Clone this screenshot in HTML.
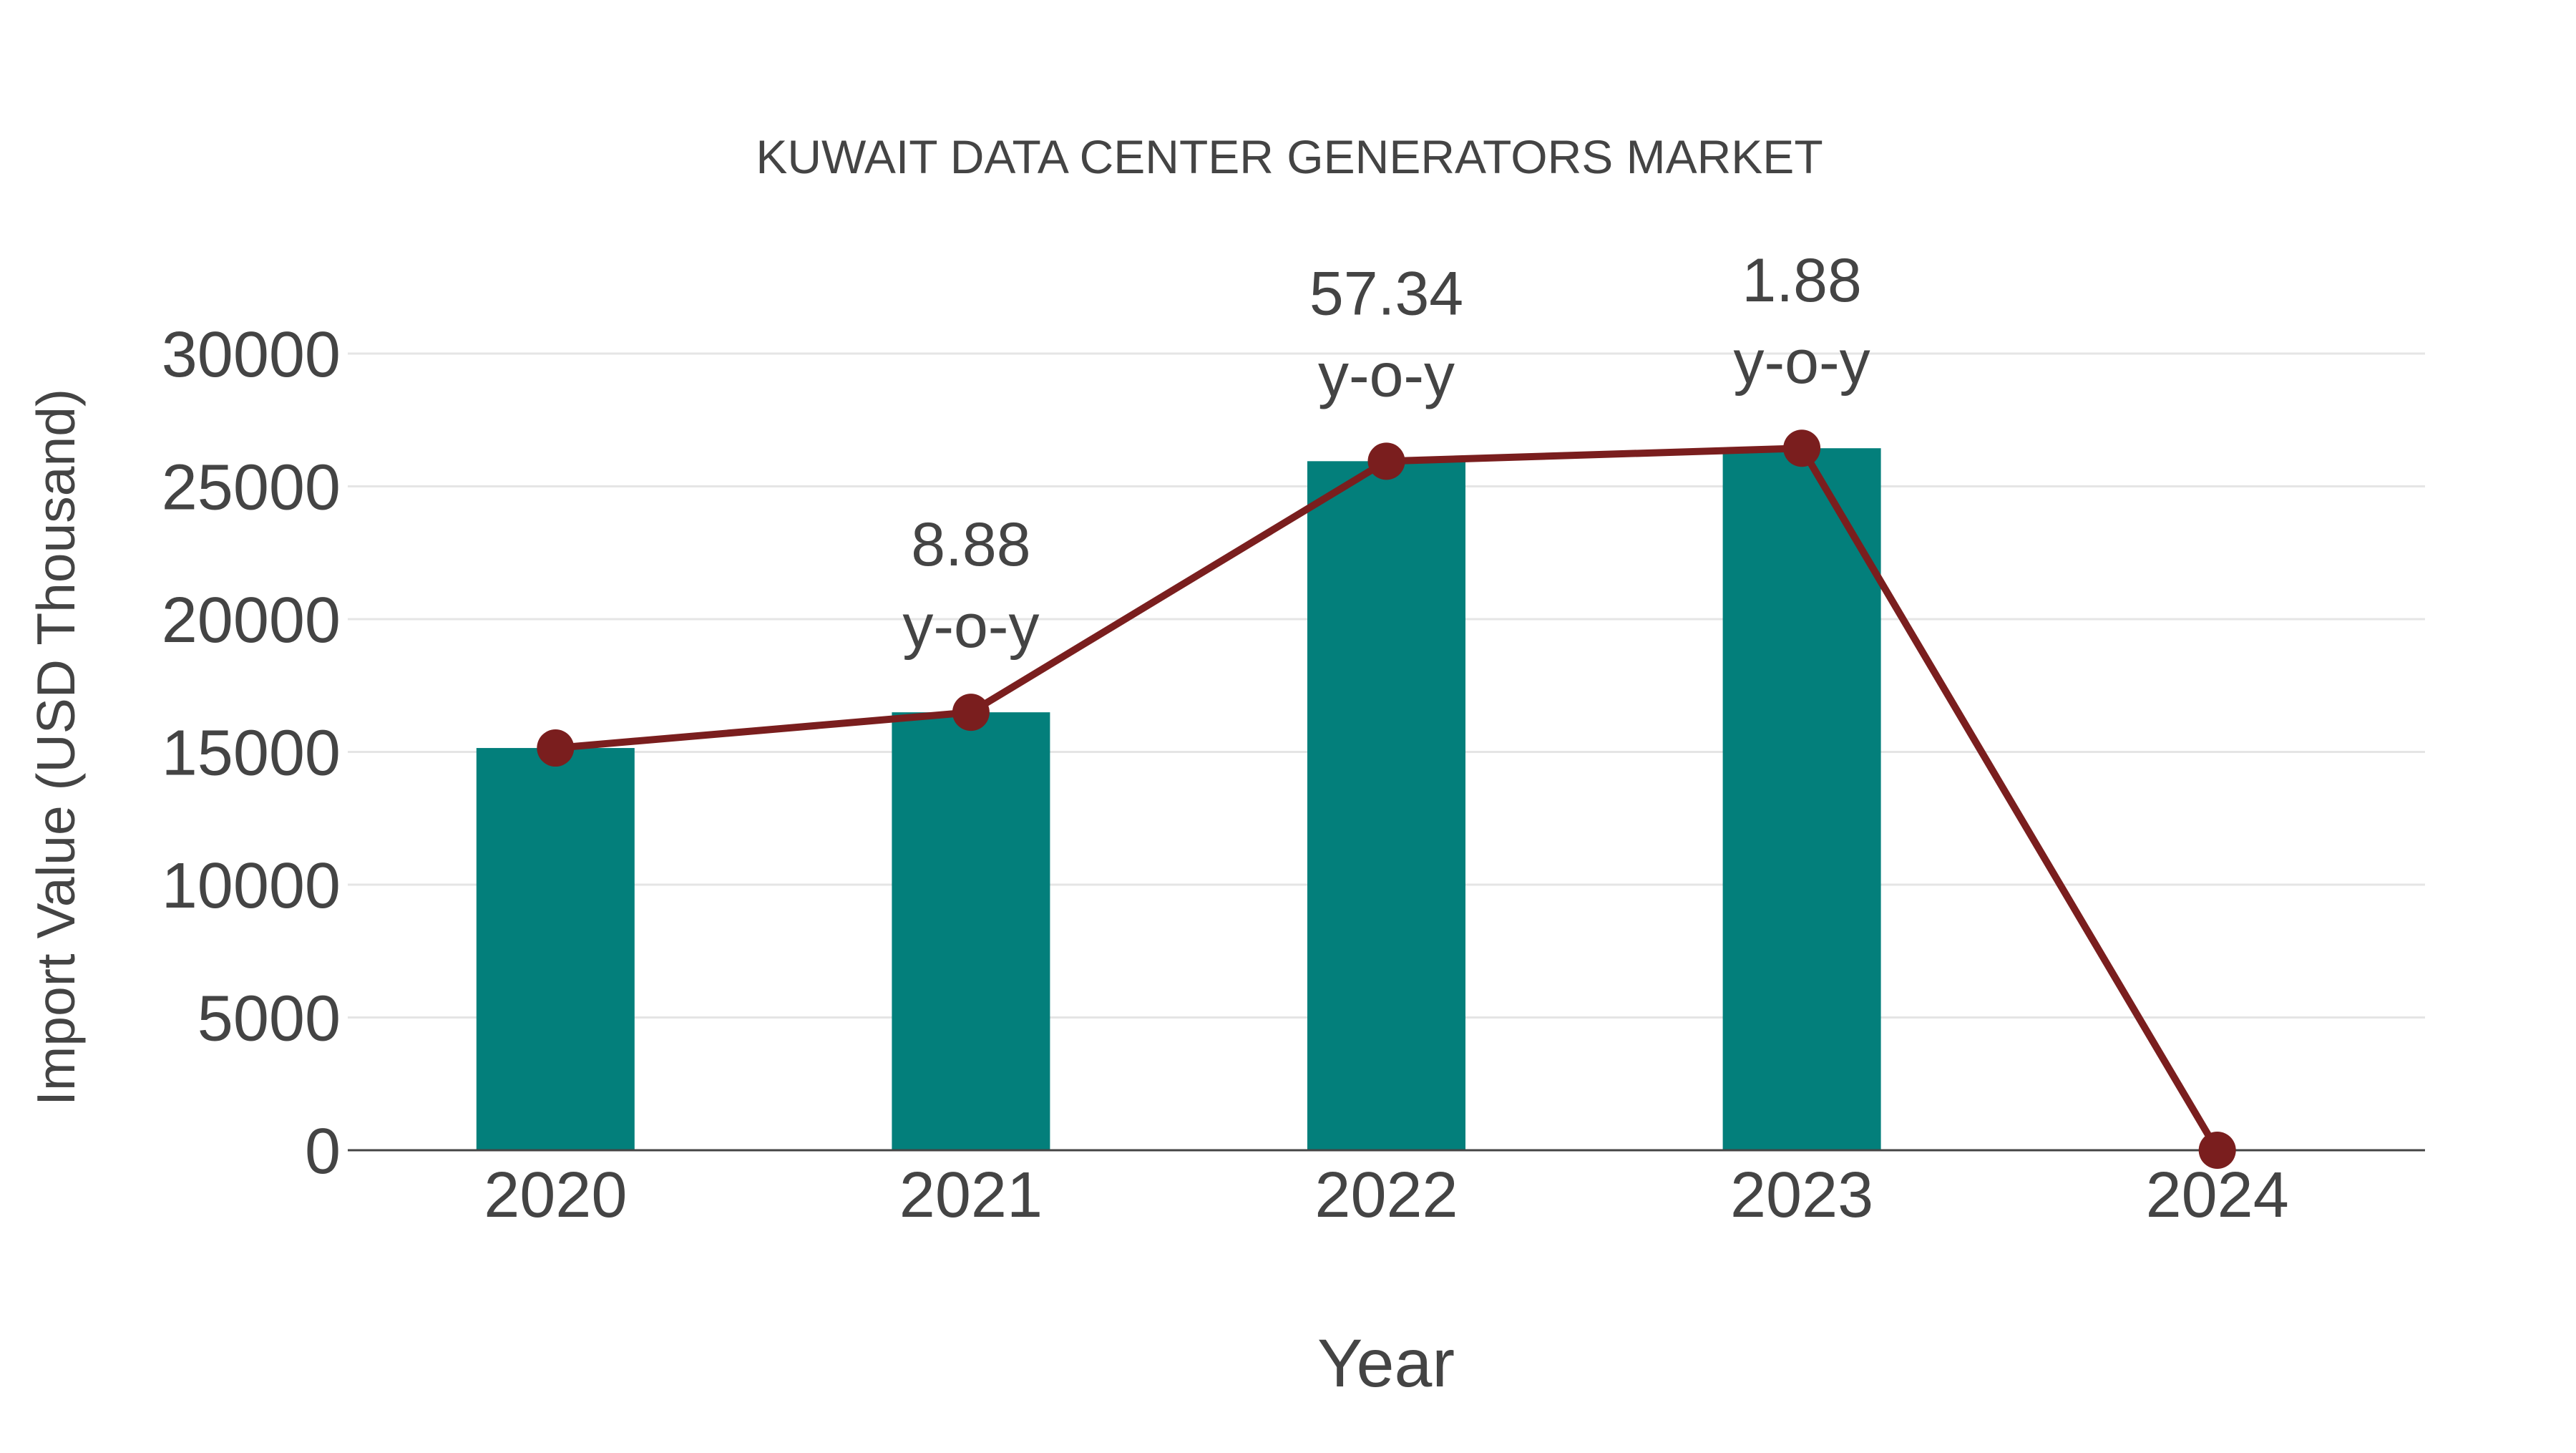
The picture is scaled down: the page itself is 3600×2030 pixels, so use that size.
<!DOCTYPE html>
<html><head><meta charset="utf-8"><style>
html,body{margin:0;padding:0;background:#fff;}
svg text{font-family:"Liberation Sans",sans-serif;fill:#444;}
</style></head><body>
<svg id="chart" width="3600" height="2025" viewBox="0 0 3600 2025" xmlns="http://www.w3.org/2000/svg">
<text x="1802" y="242" font-size="66" text-anchor="middle">KUWAIT DATA CENTER GENERATORS MARKET</text>
<text transform="translate(104,1044) rotate(-90)" font-size="75" text-anchor="middle">Import Value (USD Thousand)</text>
<text x="1937" y="1937" font-size="95" text-anchor="middle">Year</text>
<g id="grid"></g><g id="bars"></g><g id="axis"></g><g id="line"></g><g id="labels"></g>
</svg>
<script>
const categories = ["2020","2021","2022","2023","2024"];
const values = [15147, 16492, 25948, 26436, 0];
const growth = [null, "8.88", "57.34", "1.88", null];
const yTicks = [0, 5000, 10000, 15000, 20000, 25000, 30000];

const NS = "http://www.w3.org/2000/svg";
const X0 = 486, X1 = 3389, Y0 = 1607, Y1 = 494, YMAX = 30000;
const band = (X1 - X0) / categories.length;
function xScale(i){ return X0 + band * (i + 0.5); }
function yScale(v){ return Y0 - (v / YMAX) * (Y0 - Y1); }
function mk(tag, attrs, parent){ const e = document.createElementNS(NS, tag); for (const k in attrs) e.setAttribute(k, attrs[k]); parent.appendChild(e); return e; }

const grid = document.getElementById('grid');
yTicks.forEach(t => {
  if (t > 0) {
    const g = mk('line', {x1:X0, x2:X1, y1:yScale(t), y2:yScale(t), stroke:'#e5e5e5', 'stroke-width':3}, grid);
    
    
  }
  const tl = mk('text', {x:476, y:yScale(t)+32, 'font-size':90, 'text-anchor':'end'}, grid);
  tl.textContent = t;
  
  
});

const bars = document.getElementById('bars');
const bw = 221;
values.forEach((v, i) => {
  if (v > 0) {
    const r = mk('rect', {x:xScale(i)-bw/2, y:yScale(v), width:bw, height:Y0-yScale(v), fill:'#037f7b'}, bars);
    
    
  }
  const xl = mk('text', {x:xScale(i), y:Y0+93, 'font-size':90, 'text-anchor':'middle'}, bars);
  xl.textContent = categories[i];
  
  
});

const axis = document.getElementById('axis');
const ax = mk('line', {x1:X0, x2:X1, y1:Y0, y2:Y0, stroke:'#444', 'stroke-width':3}, axis);



const lg = document.getElementById('line');
const pts = values.map((v, i) => xScale(i) + ',' + yScale(v)).join(' ');
const pl = mk('polyline', {points:pts, fill:'none', stroke:'#7a1e1e', 'stroke-width':10, 'stroke-linejoin':'round'}, lg);


values.forEach((v, i) => {
  const c = mk('circle', {cx:xScale(i), cy:yScale(v), r:26, fill:'#7a1e1e'}, lg);
  
  
});

const labels = document.getElementById('labels');
growth.forEach((g, i) => {
  if (g === null) return;
  const y = yScale(values[i]);
  const t1 = mk('text', {x:xScale(i), y:y-205, 'font-size':86, 'text-anchor':'middle'}, labels);
  t1.textContent = g;
  
  
  const t2 = mk('text', {x:xScale(i), y:y-91, 'font-size':86, 'text-anchor':'middle'}, labels);
  t2.textContent = 'y-o-y';
  
  
});
</script>
</body></html>
